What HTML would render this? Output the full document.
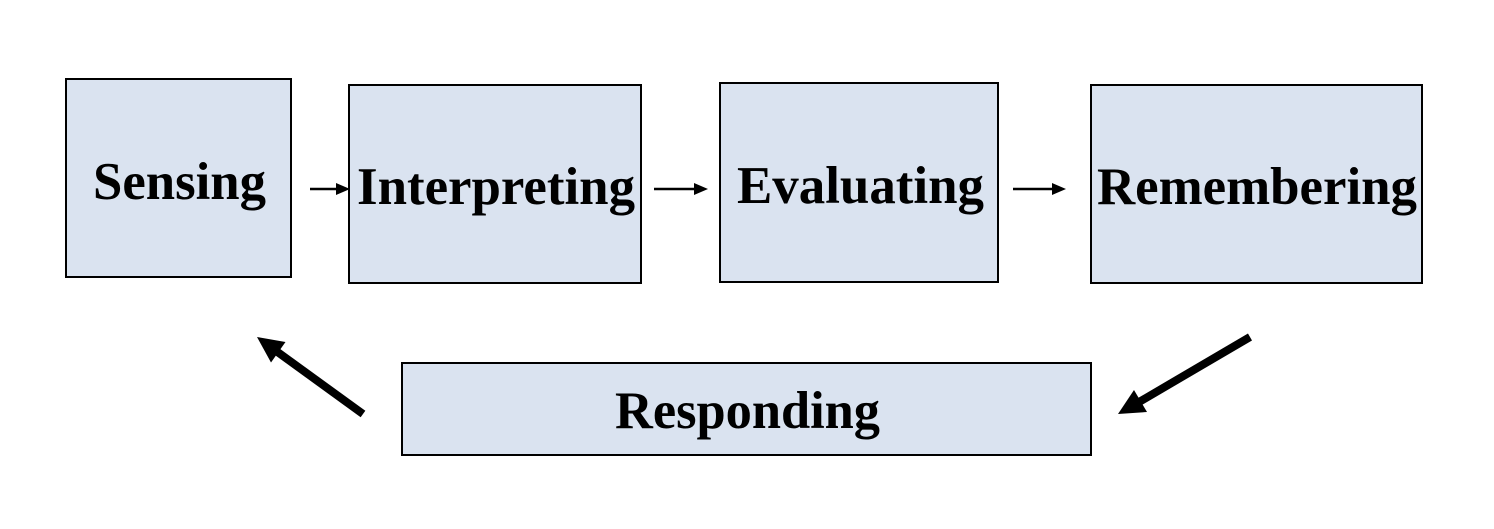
<!DOCTYPE html>
<html><head><meta charset="utf-8"><style>html,body{margin:0;padding:0;background:#fff}</style></head>
<body>
<svg width="1494" height="524" xmlns="http://www.w3.org/2000/svg" font-family="'Liberation Serif', serif" font-weight="bold" font-size="53">
<g fill="#dae3f0" stroke="#000" stroke-width="2">
<rect x="66" y="79" width="225" height="198"/>
<rect x="349" y="85" width="292" height="198"/>
<rect x="720" y="83" width="278" height="199"/>
<rect x="1091" y="85" width="331" height="198"/>
<rect x="402" y="363" width="689" height="92"/>
</g>
<g fill="#000">
<text x="93" y="199" textLength="173" lengthAdjust="spacingAndGlyphs">Sensing</text>
<text x="357" y="204" textLength="278" lengthAdjust="spacingAndGlyphs">Interpreting</text>
<text x="737" y="203" textLength="247" lengthAdjust="spacingAndGlyphs">Evaluating</text>
<text x="1097" y="204" textLength="320" lengthAdjust="spacingAndGlyphs">Remembering</text>
<text x="615" y="428" textLength="265" lengthAdjust="spacingAndGlyphs">Responding</text>
</g>
<g stroke="#000" stroke-width="2.5">
<line x1="310" y1="189" x2="338" y2="189"/>
<line x1="654" y1="189" x2="696" y2="189"/>
<line x1="1013" y1="189" x2="1054" y2="189"/>
</g>
<g fill="#000">
<polygon points="350,189 336,183 336,195"/>
<polygon points="708,189 694,183 694,195"/>
<polygon points="1066,189 1052,183 1052,195"/>
</g>
<g stroke="#000" stroke-width="8">
<line x1="363" y1="414" x2="272" y2="348"/>
<line x1="1250" y1="337" x2="1134" y2="405"/>
</g>
<g fill="#000">
<polygon points="257,337 285.5,342 271,362.5"/>
<polygon points="1118,414 1134,390 1147,412"/>
</g>
</svg>
</body></html>
